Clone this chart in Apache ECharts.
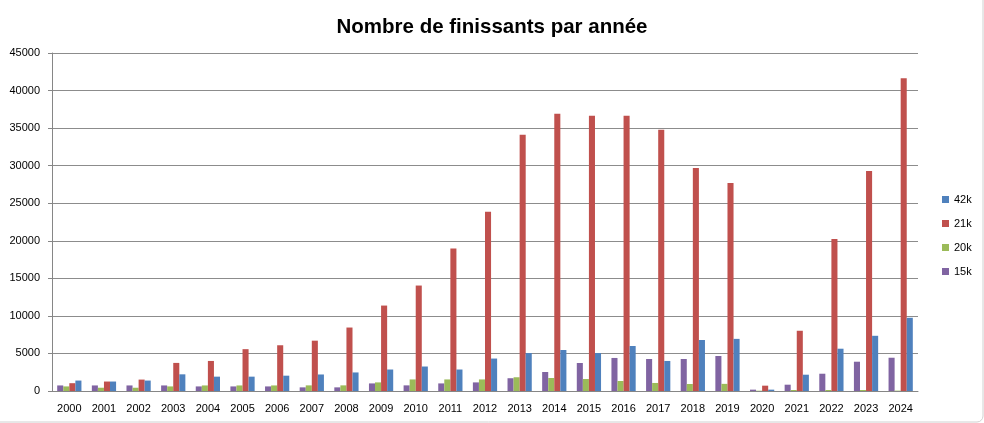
<!DOCTYPE html>
<html><head><meta charset="utf-8">
<script src="https://cdn.jsdelivr.net/npm/echarts@6/dist/echarts.min.js"></script>
<style>html,body{margin:0;padding:0;background:#fff}#c{width:984px;height:423px}</style>
</head><body><div id="c"></div>
<script>
const years = ['2000','2001','2002','2003','2004','2005','2006','2007','2008','2009','2010','2011','2012','2013','2014','2015','2016','2017','2018','2019','2020','2021','2022','2023','2024'];
const s15k = [740,740,740,740,610,610,610,485,485,1010,750,1010,1145,1700,2530,3730,4400,4260,4260,4660,180,840,2300,3900,4430];
const s20k = [610,435,435,610,740,740,740,750,750,1145,1540,1540,1540,1830,1730,1600,1330,1070,930,950,40,130,130,130,50];
const s21k = [1040,1260,1520,3740,4000,5570,6090,6700,8450,11375,14040,18960,23880,34100,36900,36630,36630,34770,29700,27700,710,8020,20250,29280,41640];
const s42k = [1390,1260,1390,2220,1910,1910,2040,2200,2470,2860,3260,2860,4320,5060,5460,5060,5990,4000,6790,6940,180,2170,5630,7350,9750];
const legendOrder = ['42k','21k','20k','15k'];

const font = 'Liberation Sans';
const chart = echarts.init(document.getElementById('c'));
const mk = (name, data, color) => ({
  name, type: 'bar', data, barGap: '0%', barCategoryGap: '30%',
  itemStyle: { color }, animation: false
});
chart.setOption({
  animation: false,
  textStyle: { fontFamily: font },
  title: { text: 'Nombre de finissants par année', left: 'center', top: 12,
    textStyle: { fontFamily: font, fontWeight: 'bold', fontSize: 20.5, color: '#000' } },
  graphic: [{ type: 'rect', shape: { x: -6, y: -6, width: 989, height: 428, r: 6 },
    style: { fill: 'none', stroke: '#d0d0d0', lineWidth: 1 }, silent: true }],
  legend: { data: legendOrder, orient: 'vertical', left: 937, top: 189, itemWidth: 7, itemHeight: 7,
    itemGap: 13, icon: 'rect', textStyle: { fontSize: 11, color: '#000', fontFamily: font } },
  grid: { left: 52, right: 66, top: 53, bottom: 32, containLabel: false },
  xAxis: { type: 'category', data: years,
    axisLine: { lineStyle: { color: '#868686' } }, axisTick: { show: false },
    axisLabel: { fontSize: 11, color: '#000', margin: 12, interval: 0 } },
  yAxis: { type: 'value', min: 0, max: 45000, interval: 5000,
    axisLine: { show: true, lineStyle: { color: '#868686' } },
    axisTick: { show: true, inside: false, length: 4, lineStyle: { color: '#868686' } },
    splitLine: { lineStyle: { color: '#8c8c8c' } },
    axisLabel: { fontSize: 11, color: '#000', margin: 12, formatter: v => String(v) } },
  series: [ mk('15k', s15k, '#8064A2'), mk('20k', s20k, '#9BBB59'), mk('21k', s21k, '#C0504D'), mk('42k', s42k, '#4F81BD') ]
});
</script></body></html>
